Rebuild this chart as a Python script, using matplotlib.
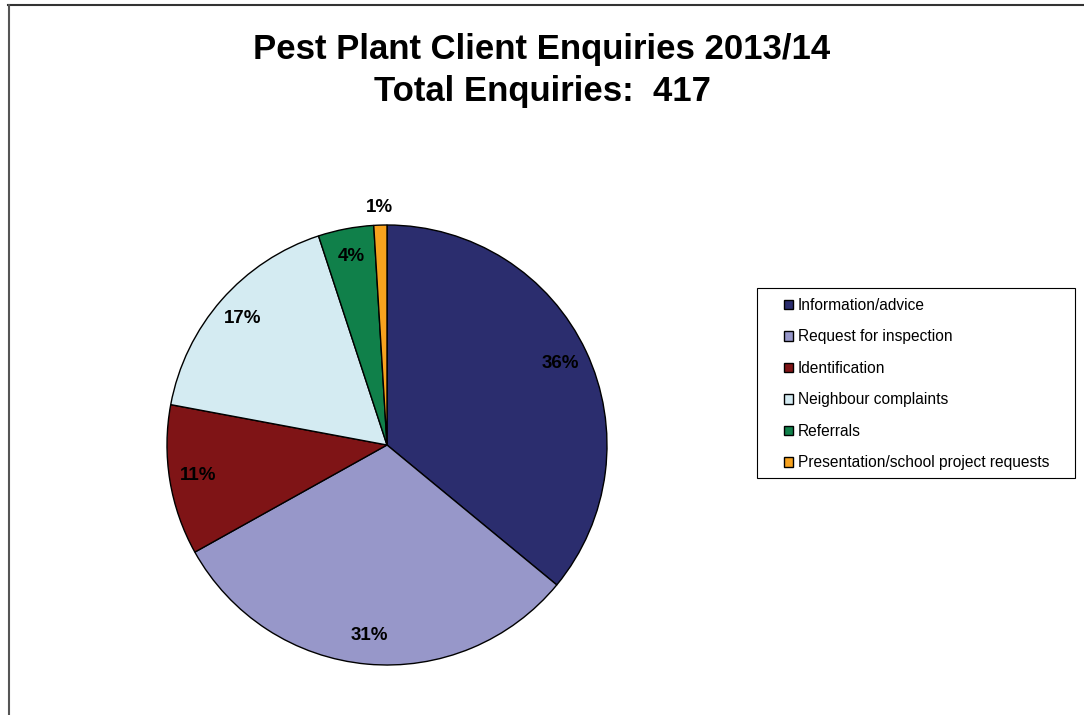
import matplotlib.pyplot as plt
import numpy as np
from matplotlib.lines import Line2D
from matplotlib.patches import Rectangle

plt.rcParams["font.family"] = ["Liberation Sans", "DejaVu Sans"]

categories = [
    "Information/advice",
    "Request for inspection",
    "Identification",
    "Neighbour complaints",
    "Referrals",
    "Presentation/school project requests",
]
enquiries = [150, 129, 46, 71, 17, 4]
colors = ["#2B2D6E", "#9797C9", "#7F1416", "#D4EBF2", "#10804A", "#F7A21E"]

W, H = 1084, 715
fig = plt.figure(figsize=(W / 100, H / 100), dpi=100)

# pie axes placed in pixel terms: centre (387, 445), radius 220
cx, cy, r = 387, 445, 220
ax = fig.add_axes([(cx - r) / W, (H - cy - r) / H, 2 * r / W, 2 * r / H])
wedges, texts, autotexts = ax.pie(
    enquiries,
    colors=colors,
    startangle=90,
    counterclock=False,
    autopct="%1.0f%%",
    pctdistance=0.87,
    wedgeprops=dict(edgecolor="black", linewidth=1.0),
    textprops=dict(fontsize=13.5, fontweight="bold", color="black"),
)
# the tiny slice gets its label outside
small = autotexts[-1]
x, y = small.get_position()
scale = 1.08 / np.hypot(x, y)
small.set_position((x * scale, y * scale))
ax.set_xlim(-1, 1)
ax.set_ylim(-1, 1)
ax.set_aspect("equal")
ax.axis("off")

fig.text(0.5, 1 - 50 / H, "Pest Plant Client Enquiries 2013/14", ha="center",
         va="center", fontsize=25, fontweight="bold")
fig.text(0.5, 1 - 92 / H, "Total Enquiries:  417", ha="center",
         va="center", fontsize=25, fontweight="bold")

# legend box drawn by hand so its padding can match
fig.add_artist(Rectangle((757 / W, 1 - 478 / H), 318 / W, 190 / H,
                         transform=fig.transFigure, facecolor="white",
                         edgecolor="black", linewidth=0.8))
leg = fig.legend(
    wedges,
    categories,
    loc="upper left",
    bbox_to_anchor=(784 / W, 1 - 298 / H),
    fontsize=11.2,
    frameon=False,
    handlelength=0.55,
    handleheight=0.55,
    handletextpad=0.35,
    labelspacing=1.06,
    borderpad=0,
    borderaxespad=0,
)

# outer chart frame (top and left edges visible)
fig.add_artist(Line2D([8 / W, 1], [1 - 5 / H, 1 - 5 / H], color="#333333",
                      linewidth=1.5, transform=fig.transFigure))
fig.add_artist(Line2D([9 / W, 9 / W], [1 - 5 / H, 0], color="#555555",
                      linewidth=1.5, transform=fig.transFigure))

fig.savefig("out.png", dpi=100)
